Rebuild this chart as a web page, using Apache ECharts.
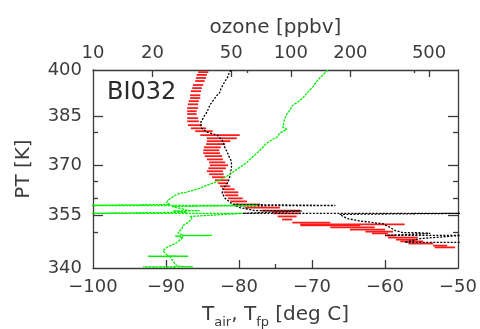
<!DOCTYPE html>
<html>
<head>
<meta charset="utf-8">
<script src="https://cdn.jsdelivr.net/npm/echarts@6/dist/echarts.min.js"></script>
<style>
  html, body { margin: 0; padding: 0; background: #fff; }
  #chart { width: 480px; height: 329px; }
</style>
</head>
<body>
<div id="chart"></div>
<script>
// Sounding BI032: potential temperature vs. temperature / frost point and ozone

// Frost point with uncertainty range: [PT (K), low (deg C), high (deg C)]
const frostPointRange = [
  [399.3, -85.6, -84.2], [398.4, -85.8, -84.4], [397.4, -85.9, -84.5], [396.4, -86.0, -84.7],
  [395.1, -86.3, -84.9], [394.1, -86.4, -85.1], [393.1, -86.6, -85.2], [391.8, -86.7, -85.3],
  [390.9, -86.7, -85.3], [389.9, -86.9, -85.5], [388.9, -87.0, -85.6], [387.7, -87.1, -85.6],
  [386.7, -87.1, -85.8], [385.8, -87.1, -85.8], [384.5, -87.1, -85.6], [383.5, -87.1, -85.5],
  [382.3, -87.0, -85.1], [381.3, -86.6, -84.5], [380.4, -86.0, -83.6], [379.2, -85.3, -79.9],
  [378.2, -84.4, -80.3], [377.3, -84.4, -81.2], [376.4, -84.5, -81.9], [375.4, -84.8, -82.5],
  [374.5, -84.9, -82.7], [373.6, -84.9, -82.6], [372.7, -84.7, -82.3], [371.7, -84.4, -82.2],
  [370.8, -84.1, -81.9], [369.9, -84.0, -81.5], [369.0, -84.2, -81.8], [368.1, -84.4, -82.2],
  [367.2, -84.1, -82.1], [366.3, -83.7, -81.9], [365.4, -83.3, -81.5], [364.5, -82.9, -81.5],
  [363.6, -82.6, -81.2], [362.7, -82.2, -80.6], [361.8, -82.1, -80.1], [360.9, -81.9, -80.1],
  [360.0, -81.5, -79.5], [359.1, -81.2, -78.9], [358.2, -80.8, -77.1], [357.3, -79.2, -74.4],
  [356.4, -76.9, -71.6], [355.6, -75.3, -71.6], [354.7, -74.7, -72.1], [353.8, -74.1, -72.7],
  [352.9, -72.7, -67.5], [352.4, -71.6, -57.3], [352.1, -71.6, -63.4], [351.5, -67.5, -61.4],
  [350.9, -64.8, -60.0], [350.3, -62.7, -58.9], [349.8, -61.8, -59.6], [349.2, -60.0, -58.6],
  [348.6, -59.6, -55.5], [348.0, -58.5, -55.6], [347.5, -57.9, -54.8], [346.9, -56.8, -53.4],
  [346.3, -53.4, -51.5], [345.8, -53.2, -50.4]
];

// Second temperature profile: [deg C, PT (K)]
const tempProfile = [
  [-81.1, 400.0], [-81.4, 398.7], [-81.6, 397.4], [-81.9, 396.4], [-82.2, 395.1], [-82.5, 393.8],
  [-82.6, 392.8], [-83.0, 391.8], [-83.3, 390.9], [-83.7, 389.6], [-84.0, 388.6], [-84.2, 387.4],
  [-84.4, 386.4], [-84.7, 385.4], [-84.9, 384.5], [-85.3, 382.9], [-85.1, 381.3], [-84.4, 380.1],
  [-83.0, 379.2], [-82.3, 377.6], [-82.1, 376.4], [-81.9, 375.1], [-81.6, 373.9], [-81.4, 372.7],
  [-81.1, 371.4], [-81.0, 369.9], [-81.1, 368.4], [-81.2, 366.9], [-81.5, 364.8], [-81.9, 363.6],
  [-82.2, 363.0], [-82.3, 361.5], [-81.9, 360.0], [-81.2, 358.8], [-80.8, 358.2], [-66.8, 357.9],
  [-80.5, 357.8], [-79.9, 357.3], [-78.5, 356.7], [-77.8, 356.4], [-71.4, 356.3], [-79.5, 355.6],
  [-49.7, 355.6], [-66.2, 355.3], [-65.2, 354.1], [-63.8, 353.5], [-61.6, 352.9], [-60.3, 352.6],
  [-59.3, 351.5], [-58.6, 350.6], [-57.5, 350.0], [-55.6, 350.0], [-53.8, 349.8], [-60.0, 349.2],
  [-49.7, 349.2], [-55.2, 348.3], [-57.3, 347.2], [-49.7, 347.2]
];

// Ozone profile: [ppbv, PT (K)]
const ozoneProfile = [
  [153.8, 400.0], [145.1, 398.4], [136.9, 396.7], [129.1, 394.5], [121.9, 392.8], [115.0, 390.9],
  [108.5, 389.6], [102.3, 388.6], [98.8, 387.0], [95.5, 385.8], [93.3, 384.5], [92.2, 383.2],
  [91.1, 381.6], [95.5, 381.0], [88.0, 379.8], [85.0, 378.5], [81.1, 377.9], [75.6, 376.7],
  [71.4, 375.1], [67.3, 373.6], [63.5, 372.3], [60.0, 370.8], [55.3, 369.3], [50.9, 367.8],
  [47.5, 366.6], [43.8, 365.4], [40.4, 364.5], [37.6, 363.9], [34.7, 363.0], [32.0, 362.4],
  [29.5, 361.8], [27.5, 361.5], [26.0, 360.9], [25.1, 360.3], [23.9, 359.4], [23.6, 358.8],
  [24.5, 358.2], [8.0, 357.9], [68.1, 357.9], [25.1, 357.6], [26.6, 357.3], [29.2, 356.7],
  [30.9, 356.4], [34.7, 356.4], [25.4, 356.3], [29.8, 355.9], [8.0, 355.6], [57.2, 355.6],
  [30.9, 354.7], [31.6, 354.1], [30.2, 352.9], [28.5, 352.1], [28.2, 351.2], [26.9, 350.0],
  [28.5, 349.2], [39.9, 349.2], [26.0, 349.1], [28.5, 348.6], [26.6, 347.2], [23.6, 345.8],
  [22.6, 344.9], [23.9, 343.4], [30.2, 343.3], [19.0, 343.3], [24.5, 343.2], [25.4, 341.9],
  [26.6, 340.5], [32.0, 340.3], [17.9, 340.3], [26.0, 340.2], [26.0, 340.0]
];

// Tick values
const tempTicks = [-100, -90, -80, -70, -60, -50];
const tempMinorTicks = [-75];
const ozoneTicks = [10, 20, 50, 100, 200, 500];
const ozoneMinorTicks = [60, 420];
const ptTicks = [340, 355, 370, 385, 400];
const ptMinorTicks = [350, 360, 365, 380];

const FONT = 'DejaVu Sans';
const INK = '#3c3c3c';
const AXIS = '#3a3a3a';

const chart = echarts.init(document.getElementById('chart'), null, { renderer: 'canvas' });

const noLine = { show: false };
const hiddenLabel = { show: false };

function tickOnly(values, len) {
  return { show: true, inside: true, length: len, customValues: values,
           lineStyle: { color: AXIS, width: 1.3 } };
}

const option = {
  animation: false,
  backgroundColor: '#fff',
  grid: { left: 93, right: 22, top: 70, bottom: 61, containLabel: false, outerBoundsMode: 'none' },
  graphic: [{
    type: 'text', left: 107, top: 81, silent: true,
    style: { text: 'BI032', fontSize: 24, fontFamily: FONT, fill: '#2a2a2a' }
  }],
  xAxis: [
    {
      type: 'value', position: 'bottom', min: -100, max: -50, interval: 10,
      axisLine: { show: true, lineStyle: { color: AXIS, width: 1.3 } },
      axisTick: tickOnly(tempTicks.slice(1, -1), 8),
      axisLabel: {
        margin: 10, fontSize: 18, fontFamily: FONT, color: INK,
        customValues: tempTicks,
        formatter: v => (v < 0 ? '\u2212' + Math.abs(v) : String(v))
      },
      splitLine: { show: false },
      name: '{a|T}{s|air}{a|, T}{s|fp}{a| [deg C]}',
      nameLocation: 'middle', nameGap: 37,
      nameTextStyle: {
        fontFamily: FONT, color: INK,
        rich: {
          a: { fontSize: 20, fontFamily: FONT, color: INK, verticalAlign: 'top', lineHeight: 22 },
          s: { fontSize: 13, fontFamily: FONT, color: INK, verticalAlign: 'top', lineHeight: 13, padding: [11, 0, 0, 0] }
        }
      }
    },
    {
      type: 'log', logBase: 10, position: 'top', min: 10, max: 700,
      axisLine: { show: true, lineStyle: { color: AXIS, width: 1.3 } },
      axisTick: tickOnly(ozoneTicks.slice(1), 7),
      axisLabel: {
        margin: 8, fontSize: 18, fontFamily: FONT, color: INK,
        customValues: ozoneTicks,
        formatter: v => String(Math.round(v))
      },
      splitLine: { show: false },
      name: 'ozone [ppbv]', nameLocation: 'middle', nameGap: 32,
      nameTextStyle: { fontSize: 20, fontFamily: FONT, color: INK }
    },
    {
      type: 'value', position: 'bottom', min: -100, max: -50,
      axisLine: noLine, axisLabel: hiddenLabel, splitLine: { show: false },
      axisTick: tickOnly(tempMinorTicks, 4)
    },
    {
      type: 'log', logBase: 10, position: 'top', min: 10, max: 700,
      axisLine: noLine, axisLabel: hiddenLabel, splitLine: { show: false },
      axisTick: tickOnly(ozoneMinorTicks, 3)
    }
  ],
  yAxis: [
    {
      type: 'log', logBase: 10, position: 'left', min: 340, max: 400,
      axisLine: { show: true, lineStyle: { color: AXIS, width: 1.3 } },
      axisTick: tickOnly(ptTicks.slice(1, -1), 10),
      axisLabel: {
        margin: 11, fontSize: 18, fontFamily: FONT, color: INK,
        customValues: ptTicks,
        formatter: v => String(Math.round(v))
      },
      splitLine: { show: false },
      name: 'PT [K]', nameLocation: 'middle', nameGap: 59,
      nameTextStyle: { fontSize: 20, fontFamily: FONT, color: INK }
    },
    {
      type: 'log', logBase: 10, position: 'right', min: 340, max: 400,
      axisLine: { show: true, lineStyle: { color: AXIS, width: 1.3 } },
      axisTick: tickOnly(ptTicks.slice(1, -1), 10),
      axisLabel: hiddenLabel, splitLine: { show: false }
    },
    {
      type: 'log', logBase: 10, position: 'left', min: 340, max: 400,
      axisLine: noLine, axisLabel: hiddenLabel, splitLine: { show: false },
      axisTick: tickOnly(ptMinorTicks, 5)
    },
    {
      type: 'log', logBase: 10, position: 'right', min: 340, max: 400,
      axisLine: noLine, axisLabel: hiddenLabel, splitLine: { show: false },
      axisTick: tickOnly(ptMinorTicks, 5)
    }
  ],
  series: [
    {
      // frost point uncertainty bars
      type: 'custom', xAxisIndex: 0, yAxisIndex: 0, clip: true,
      data: frostPointRange.map(r => [r[1], r[2], r[0]]),
      encode: { x: [0, 1], y: 2 },
      renderItem: function (params, api) {
        const a = api.coord([api.value(0), api.value(2)]);
        const b = api.coord([api.value(1), api.value(2)]);
        return {
          type: 'rect',
          shape: { x: a[0], y: a[1] - 0.9, width: Math.max(b[0] - a[0], 1), height: 1.8 },
          style: { fill: '#ff1a1a' }
        };
      }
    },
    {
      type: 'line', xAxisIndex: 0, yAxisIndex: 0, data: tempProfile,
      showSymbol: false, clip: true,
      lineStyle: { color: '#000', width: 1.3, type: [2, 1.5] }
    },
    {
      type: 'line', xAxisIndex: 1, yAxisIndex: 0, data: ozoneProfile,
      showSymbol: false, clip: true,
      lineStyle: { color: '#00ee00', width: 1.3, type: [2.5, 1] }
    }
  ]
};

chart.setOption(option);
</script>
</body>
</html>
